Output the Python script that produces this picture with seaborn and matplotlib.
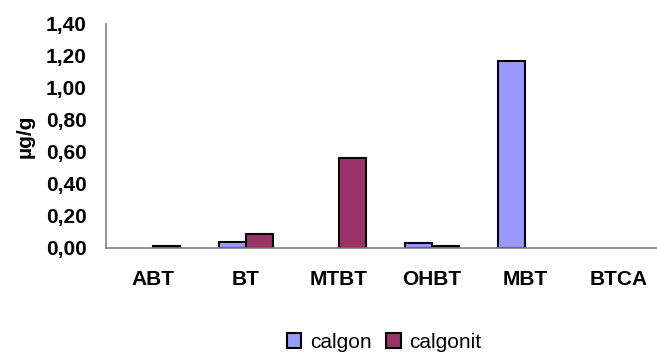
import matplotlib
matplotlib.use("Agg")
import matplotlib.pyplot as plt
import seaborn as sns
import pandas as pd
import numpy as np
from matplotlib.patches import Patch
from matplotlib.ticker import FuncFormatter, FixedLocator

categories = ["ABT", "BT", "MTBT", "OHBT", "MBT", "BTCA"]
series = ["calgon", "calgonit"]
calgon = [np.nan, 0.04, np.nan, 0.03, 1.17, np.nan]
calgonit = [0.01, 0.09, 0.56, 0.013, np.nan, np.nan]
colors = {"calgon": "#9999FF", "calgonit": "#993366"}

df = pd.DataFrame({
    "compound": categories * 2,
    "series": ["calgon"] * len(categories) + ["calgonit"] * len(categories),
    "value": calgon + calgonit,
})

sns.set_style("white")
plt.rcParams["font.family"] = ["Liberation Sans", "DejaVu Sans"]
plt.rcParams["text.color"] = "black"
plt.rcParams["xtick.color"] = "black"
plt.rcParams["ytick.color"] = "black"
plt.rcParams["axes.labelcolor"] = "black"

FS = 15

fig = plt.figure(figsize=(6.57, 3.53), dpi=100)
ax = fig.add_axes([106 / 657, 1 - 248 / 353, 559 / 657, 224 / 353])

sns.barplot(data=df, x="compound", y="value", hue="series", order=categories,
            hue_order=series, palette=colors, width=0.58, edgecolor="black",
            linewidth=1.5, saturation=1, ax=ax, legend=False, errorbar=None)

ax.set_xlim(-0.5, len(categories) - 0.5)
ax.set_ylim(0, 1.4)
ax.set_yticks(np.arange(0, 1.41, 0.2))
ax.yaxis.set_major_formatter(FuncFormatter(lambda v, p: f"{v:.2f}".replace(".", ",")))
ax.tick_params(axis="y", direction="out", length=6, width=1, color="#808080",
               labelcolor="black", pad=8, labelsize=FS)
for lbl in ax.get_yticklabels():
    lbl.set_fontweight("bold")

ax.tick_params(axis="x", which="major", length=0, pad=16, labelsize=FS,
               labelcolor="black")
for lbl in ax.get_xticklabels():
    lbl.set_fontweight("bold")
ax.xaxis.set_minor_locator(FixedLocator(np.arange(-0.5, len(categories), 1.0)))
ax.tick_params(axis="x", which="minor", direction="out", length=6, width=1,
               color="#808080")

ax.set_xlabel("")
ax.set_ylabel("µg/g", fontsize=FS, fontweight="bold", color="black")
ax.yaxis.set_label_coords(-0.128, 0.5)

for side in ["top", "right"]:
    ax.spines[side].set_visible(False)
for side in ["left", "bottom"]:
    ax.spines[side].set_color("#808080")
    ax.spines[side].set_linewidth(1.2)

handles = [Patch(facecolor=colors[s], edgecolor="black", linewidth=1.5, label=s)
           for s in series]
fig.legend(handles=handles, loc="center", bbox_to_anchor=(384 / 657, 1 - 342 / 353),
           ncol=2, frameon=False, fontsize=FS, handlelength=0.7, handleheight=0.7,
           handletextpad=0.4, columnspacing=0.7, borderaxespad=0)

fig.savefig("out.png", dpi=100)
